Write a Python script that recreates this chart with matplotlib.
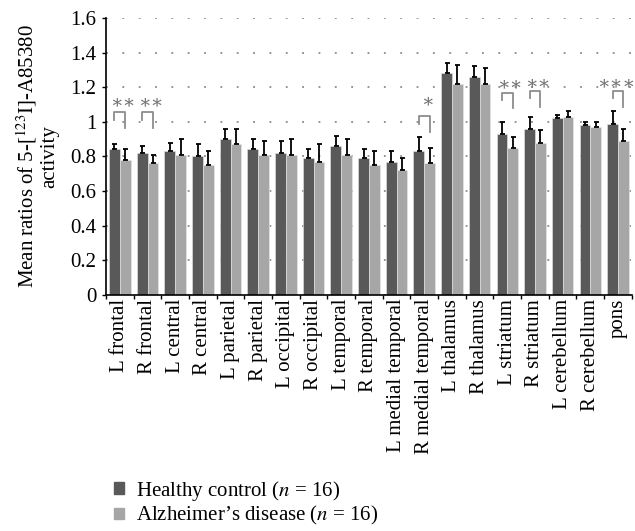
import numpy as np
import matplotlib
matplotlib.use("Agg")
import matplotlib.pyplot as plt
from matplotlib.patches import Patch

plt.rcParams['font.family'] = ['Liberation Serif', 'DejaVu Serif']
plt.rcParams['mathtext.fontset'] = 'stix'

# regions on the x axis
regions = ['L frontal', 'R frontal', 'L central', 'R central', 'L parietal', 'R parietal',
           'L occipital', 'R occipital', 'L temporal', 'R temporal', 'L medial temporal',
           'R medial temporal', 'L thalamus', 'R thalamus', 'L striatum', 'R striatum',
           'L cerebellum', 'R cerebellum', 'pons']

# mean ratios
hc_mean = [0.84, 0.82, 0.83, 0.80, 0.90, 0.84, 0.82, 0.79, 0.86, 0.79,
           0.77, 0.83, 1.28, 1.26, 0.93, 0.96, 1.02, 0.98, 0.99]
ad_mean = [0.78, 0.76, 0.81, 0.75, 0.87, 0.81, 0.81, 0.77, 0.81, 0.75,
           0.72, 0.76, 1.22, 1.22, 0.85, 0.88, 1.03, 0.97, 0.89]

# standard deviations (upper error bars)
hc_sd = [0.03, 0.04, 0.05, 0.07, 0.06, 0.06, 0.07, 0.05, 0.06, 0.05,
         0.06, 0.08, 0.06, 0.06, 0.07, 0.07, 0.02, 0.02, 0.07]
ad_sd = [0.06, 0.05, 0.09, 0.08, 0.09, 0.08, 0.09, 0.10, 0.09, 0.08,
         0.07, 0.09, 0.11, 0.09, 0.06, 0.07, 0.03, 0.03, 0.07]

# significance marks: region index, stars, bracket top, left leg end, right leg end, text y
sig_idx = [0, 1, 11, 14, 15, 18]
sig_text = ['\u2217\u2217', '\u2217\u2217', '\u2217', '\u2217\u2217', '\u2217\u2217', '\u2217\u2217\u2217']
sig_top = [1.058, 1.058, 1.035, 1.168, 1.178, 1.178]
sig_left = [1.008, 1.008, 0.99, 1.126, 1.136, 1.136]
sig_right = [0.965, 0.965, 0.94, 1.077, 1.083, 1.083]
sig_y = [1.108, 1.108, 1.115, 1.215, 1.22, 1.22]

hc_color = '#595959'
ad_color = '#a6a6a6'

fig = plt.figure(figsize=(6.35, 5.31), dpi=100)
ax = fig.add_axes([0.167, 0.445, 0.828, 0.521])

x = np.arange(len(regions))
w = 0.39
ax.bar(x - w / 2, hc_mean, w, color=hc_color, edgecolor='#e8e8e8', linewidth=0.4, zorder=2)
ax.bar(x + w / 2, ad_mean, w, color=ad_color, edgecolor='#e8e8e8', linewidth=0.4, zorder=2)
ax.errorbar(x - w / 2, hc_mean, yerr=[np.zeros(len(x)), hc_sd], fmt='none',
            ecolor='black', elinewidth=1.3, capsize=1.8, capthick=1.3, zorder=3)
ax.errorbar(x + w / 2, ad_mean, yerr=[np.zeros(len(x)), ad_sd], fmt='none',
            ecolor='black', elinewidth=1.3, capsize=1.8, capthick=1.3, zorder=3)

# brackets and stars
for i, t, top, yl, yr, ty in zip(sig_idx, sig_text, sig_top, sig_left, sig_right, sig_y):
    ax.plot([i - w / 2, i - w / 2, i + w / 2, i + w / 2], [yl, top, top, yr],
            color='#8c8c8c', linewidth=1.3, zorder=4)
    tx = i - 0.08 if len(t) > 2 else i + 0.1
    ax.text(tx, ty, t, ha='center', va='center', fontsize=13.5,
            color='#6e6e6e', zorder=4, clip_on=False)

ax.set_ylim(0, 1.6)
ax.set_xlim(-0.5, len(regions) - 0.5)
ax.set_yticks(np.arange(0, 1.61, 0.2))
ax.set_yticklabels(['0', '0.2', '0.4', '0.6', '0.8', '1', '1.2', '1.4', '1.6'], fontsize=15)
ax.yaxis.grid(True, linestyle=(0, (1.2, 9.5)), color='#777777', linewidth=1.1, zorder=0)
ax.set_axisbelow(True)

ax.set_xticks(x)
ax.set_xticklabels(regions, rotation=90, fontsize=15)
ax.tick_params(axis='x', which='major', length=0, pad=3)
ax.set_xticks(np.arange(-0.5, len(regions)), minor=True)
ax.tick_params(axis='x', which='minor', length=3, width=1, direction='out')
ax.tick_params(axis='y', length=3, width=1, direction='out', pad=4)

for s in ['top', 'right']:
    ax.spines[s].set_visible(False)
ax.spines['left'].set_linewidth(1.2)
ax.spines['bottom'].set_linewidth(1.2)

ax.set_ylabel('Mean ratios of 5-[$^{123}$I]-A85380\nactivity', fontsize=15,
              labelpad=8, linespacing=1.05)

handles = [Patch(color=hc_color), Patch(color=ad_color)]
fig.legend(handles, ['Healthy control ($n$ = 16)', 'Alzheimer\u2019s disease ($n$ = 16)'],
           loc='upper left', bbox_to_anchor=(0.163, 0.118), frameon=False, fontsize=15,
           handlelength=0.5, handleheight=0.5, handletextpad=0.55, labelspacing=0.08,
           borderpad=0)

fig.savefig('out.png', dpi=100)
